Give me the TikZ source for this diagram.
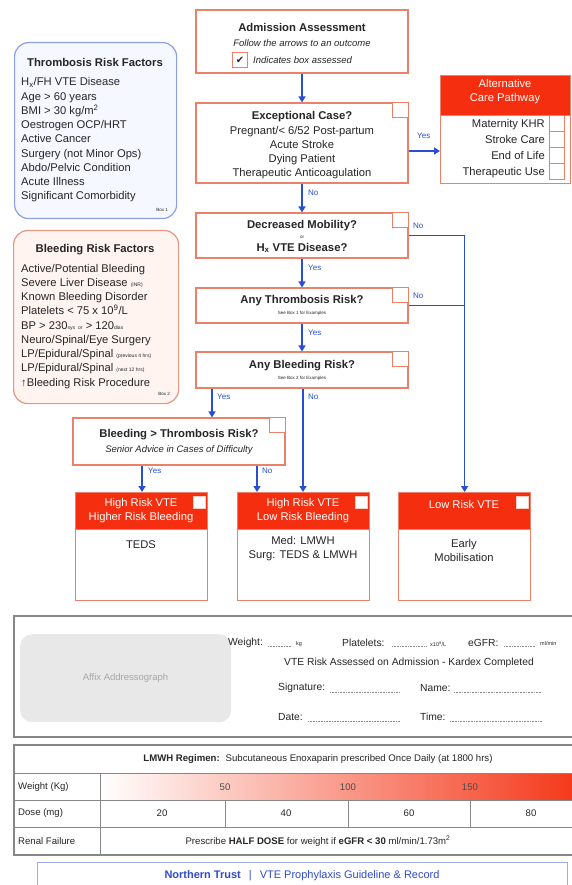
\documentclass[tikz,border=0pt]{standalone}
\usepackage{fontspec}
\setmainfont{Liberation Sans}
\newfontfamily\djv{DejaVu Sans}
\usetikzlibrary{arrows.meta,calc}
\definecolor{sal}{RGB}{236,128,104}
\definecolor{hred}{RGB}{244,46,14}
\definecolor{ablue}{RGB}{40,78,210}
\definecolor{tborder}{RGB}{140,160,230}
\definecolor{tfill}{RGB}{246,248,255}
\definecolor{bborder}{RGB}{230,150,130}
\definecolor{bfill}{RGB}{255,244,240}
\definecolor{pgray}{RGB}{135,135,135}
\definecolor{fblue}{RGB}{50,75,200}
\definecolor{fborder}{RGB}{160,170,230}
\newcommand{\tnyf}{\fontsize{5}{6}\selectfont}
\begin{document}
\begin{tikzpicture}[x=1pt,y=-1pt,
  every node/.style={inner sep=0pt, text=black!85},
  fbox/.style={draw=sal, line width=1.2pt, fill=white, inner sep=0pt},
  cbox/.style={draw=sal, line width=1pt, fill=white, minimum width=16pt, minimum height=15pt, inner sep=0pt},
  wcbox/.style={draw=sal!40, line width=0.5pt, fill=white, minimum size=12pt, inner sep=0pt},
  hdr/.style={draw=sal, line width=1.2pt, fill=hred, inner sep=0pt},
  htxt/.style={text=white, align=center, font=\fontsize{11.2}{14}\selectfont},
  ttl/.style={font=\bfseries\fontsize{11.3}{13}\selectfont},
  txt/.style={font=\fontsize{11.2}{14}\selectfont, align=center},
  itl/.style={font=\itshape\fontsize{9.5}{11}\selectfont},
  tny/.style={font=\fontsize{4.5}{5}\selectfont},
  item/.style={font=\fontsize{11.2}{13}\selectfont, anchor=base west},
  arr/.style={draw=ablue, line width=1.7pt, -{Triangle[length=6pt,width=7pt]}},
  ln/.style={draw=ablue, line width=1.7pt},
  lbl/.style={text=ablue, font=\fontsize{8}{9}\selectfont, anchor=west},
  ptxt/.style={font=\fontsize{10.3}{12}\selectfont, anchor=west},
  tbl/.style={font=\fontsize{9.6}{11}\selectfont},
  panel/.style={draw=pgray, line width=1.6pt},
  grid/.style={draw=pgray, line width=0.9pt},
  lead/.style={draw=black!45, densely dotted, line width=0.6pt}
]
\useasboundingbox (0,0) rectangle (572,885);
\fill[white] (0,0) rectangle (572,885);

% ---------- left info boxes ----------
\node[draw=tborder, fill=tfill, line width=1.2pt, rounded corners=14pt, minimum width=162pt, minimum height=176pt, anchor=north west] (tbox) at (14,42) {};
\node[ttl] (tboxT) at (95,62) {Thrombosis Risk Factors};
\foreach \t [count=\i] in {{H\textsubscript{x}/FH VTE Disease},{Age > 60 years},{BMI > 30 kg/m\textsuperscript{2}},{Oestrogen OCP/HRT},{Active Cancer},{Surgery (not Minor Ops)},{Abdo/Pelvic Condition},{Acute Illness},{Significant Comorbidity}}
  \node[item] (ti\i) at (21,{86+14.25*(\i-1)}) {\t};
\node[tny, anchor=east] (tboxN) at (168,210) {Box 1};

\node[draw=bborder, fill=bfill, line width=1.2pt, rounded corners=14pt, minimum width=165pt, minimum height=173pt, anchor=north west] (bbox) at (13,230) {};
\node[ttl] (bboxT) at (95,250) {Bleeding Risk Factors};
\foreach \t [count=\i] in {{Active/Potential Bleeding},{Severe Liver Disease {\tnyf (INR)}},{Known Bleeding Disorder},{Platelets < 75 x 10\textsuperscript{9}/L},{BP > 230{\tnyf sys} {\tnyf\itshape or} > 120{\tnyf dias}},{Neuro/Spinal/Eye Surgery},{LP/Epidural/Spinal {\tnyf (previous 4 hrs)}},{LP/Epidural/Spinal {\tnyf (next 12 hrs)}},{↑Bleeding Risk Procedure}}
  \node[item] (bi\i) at (21,{272+14.25*(\i-1)}) {\t};
\node[tny, anchor=east] (bboxN) at (170,394) {Box 2};

% ---------- admission ----------
\node[fbox, minimum width=212pt, minimum height=63pt] (adm) at (302,41.5) {};
\node[ttl] (admT) at (302,27) {Admission Assessment};
\node[itl] (admS) at (302,43) {Follow the arrows to an outcome};
\node[cbox, minimum width=15pt, minimum height=15pt] (admC) at (240,60.5) {{\djv\fontsize{10}{10}\selectfont ✔}};
\node[itl, anchor=west] (admI) at (253,60.5) {Indicates box assessed};

% ---------- exceptional ----------
\node[fbox, minimum width=212pt, minimum height=80pt] (exc) at (302,143) {};
\node[cbox, anchor=north east] (excC) at (exc.north east) {};
\node[ttl] (excT) at (302,117) {Exceptional Case?};
\node[txt] (excL) at (302,153) {Pregnant/< 6/52 Post-partum\\Acute Stroke\\Dying Patient\\Therapeutic Anticoagulation};

% ---------- alternative care ----------
\node[fbox, minimum width=130pt, minimum height=108pt, anchor=north west] (alt) at (440,75) {};
\node[hdr, minimum width=130pt, minimum height=40pt, anchor=north west] (altH) at (440,75) {};
\node[htxt] (altT) at (505,92) {Alternative\\Care Pathway};
\foreach \t/\yy [count=\i] in {Maternity KHR/124, Stroke Care/140, End of Life/156, Therapeutic Use/172}{
  \node[txt, anchor=base east] (alt\i) at (545,\yy+4) {\t};
  \node[cbox, minimum width=15pt, minimum height=16pt] (altC\i) at (556.5,\yy) {};
}

% ---------- decisions ----------
\node[fbox, minimum width=212pt, minimum height=45pt] (dec) at (302,235.5) {};
\node[cbox, anchor=north east] (decC) at (dec.north east) {};
\node[ttl] (decT) at (302,226) {Decreased Mobility?};
\node[tny] (decO) at (302,237) {or};
\node[ttl] (decH) at (302,248) {H\textsubscript{x} VTE Disease?};

\node[fbox, minimum width=212pt, minimum height=35pt] (thr) at (302,305.5) {};
\node[cbox, anchor=north east] (thrC) at (thr.north east) {};
\node[ttl] (thrT) at (302,301) {Any Thrombosis Risk?};
\node[tny] (thrS) at (302,313) {See Box 1 for Examples};

\node[fbox, minimum width=212pt, minimum height=36pt] (bld) at (302,370) {};
\node[cbox, anchor=north east] (bldC) at (bld.north east) {};
\node[ttl] (bldT) at (302,366) {Any Bleeding Risk?};
\node[tny] (bldS) at (302,378) {See Box 2 for Examples};

\node[fbox, minimum width=212pt, minimum height=47pt] (bt) at (179,441.5) {};
\node[cbox, anchor=north east] (btC) at (bt.north east) {};
\node[ttl] (btT) at (179,435) {Bleeding > Thrombosis Risk?};
\node[itl] (btS) at (179,450) {Senior Advice in Cases of Difficulty};

% ---------- outcomes ----------
\node[fbox, minimum width=132pt, minimum height=108pt, anchor=north west] (o1) at (75,492) {};
\node[hdr, minimum width=132pt, minimum height=37pt, anchor=north west] (o1h) at (75,492) {};
\node[htxt] (o1t) at (141,511) {High Risk VTE\\Higher Risk Bleeding};
\node[wcbox, anchor=north east] (o1c) at ($(o1.north east)+(-3,4)$) {};
\node[txt] (o1b) at (141,545) {TEDS};

\node[fbox, minimum width=132pt, minimum height=108pt, anchor=north west] (o2) at (237,492) {};
\node[hdr, minimum width=132pt, minimum height=37pt, anchor=north west] (o2h) at (237,492) {};
\node[htxt] (o2t) at (303,511) {High Risk VTE\\Low Risk Bleeding};
\node[wcbox, anchor=north east] (o2c) at ($(o2.north east)+(-3,4)$) {};
\node[txt] (o2b) at (303,549) {Med: LMWH\\Surg: TEDS \& LMWH};

\node[fbox, minimum width=132pt, minimum height=108pt, anchor=north west] (o3) at (398,492) {};
\node[hdr, minimum width=132pt, minimum height=37pt, anchor=north west] (o3h) at (398,492) {};
\node[htxt] (o3t) at (464,504) {Low Risk VTE};
\node[wcbox, anchor=north east] (o3c) at ($(o3.north east)+(-3,4)$) {};
\node[txt] (o3b) at (464,550) {Early\\Mobilisation};

% ---------- connectors ----------
\coordinate (yexc) at (0,151);
\coordinate (xby) at (212,0);
\coordinate (xbn) at (303,0);
\coordinate (xty) at (142,0);
\coordinate (xtn) at (257,0);
\draw[arr] (adm.south) -- (exc.north);
\draw[arr] (exc.east |- yexc) -- (alt.west |- yexc);
\draw[arr] (exc.south) -- (dec.north);
\draw[arr] (dec.south) -- (thr.north);
\draw[arr] (thr.south) -- (bld.north);
\draw[arr] (dec.east) -- (dec.east -| o3.north) -- (o3.north);
\draw[ln] (thr.east) -- (thr.east -| o3.north);
\draw[arr] (bld.south -| xby) -- (bt.north -| xby);
\draw[arr] (bld.south -| xbn) -- (o2.north -| xbn);
\draw[arr] (bt.south -| xty) -- (o1.north -| xty);
\draw[arr] (bt.south -| xtn) -- (o2.north -| xtn);

\node[lbl] (l1) at (417,136) {Yes};
\node[lbl] (l2) at (308,193) {No};
\node[lbl] (l3) at (413,226) {No};
\node[lbl] (l4) at (308,268) {Yes};
\node[lbl] (l5) at (413,296) {No};
\node[lbl] (l6) at (308,333) {Yes};
\node[lbl] (l7) at (217,397) {Yes};
\node[lbl] (l8) at (308,397) {No};
\node[lbl] (l9) at (148,471) {Yes};
\node[lbl] (l10) at (262,471) {No};

% ---------- patient panel ----------
\draw[panel] (600,616) -- (14,616) -- (14,737) -- (600,737);
\node[fill=black!9, rounded corners=12pt, minimum width=211pt, minimum height=88pt, anchor=north west] (addr) at (20,634) {};
\node[font=\fontsize{9.5}{10}\selectfont, text=black!35] (addrT) at (125.5,678) {Affix Addressograph};
\node[ptxt] (pw) at (228,643) {Weight:};
\node[anchor=west, font=\fontsize{5.5}{6}\selectfont] (pwu) at (296,644) {kg};
\node[ptxt] (pp) at (342,643) {Platelets:};
\node[anchor=west, font=\fontsize{5.5}{6}\selectfont] (ppu) at (430,644) {x10\textsuperscript{9}/L};
\node[ptxt] (pe) at (468,643) {eGFR:};
\node[anchor=west, font=\fontsize{5.5}{6}\selectfont] (peu) at (540,644) {ml/min};
\draw[lead] (268,646) -- (292,646);
\draw[lead] (392,646) -- (426,646);
\draw[lead] (504,646) -- (536,646);
\node[font=\fontsize{10.3}{12}\selectfont] (pv) at (409,663) {VTE Risk Assessed on Admission - Kardex Completed};
\node[ptxt] (psig) at (278,688) {Signature:};
\node[ptxt] (pnam) at (420,688) {Name:};
\node[ptxt] (pdat) at (278,717) {Date:};
\node[ptxt] (ptim) at (420,717) {Time:};
\draw[lead] (330,692) -- (400,692);
\draw[lead] (454,692) -- (542,692);
\draw[lead] (308,721) -- (400,721);
\draw[lead] (450,721) -- (542,721);

% ---------- LMWH table ----------
\shade[left color=white, right color=hred] (100,773) rectangle (600,800);
\draw[panel] (600,745) -- (14,745) -- (14,855) -- (600,855);
\draw[grid] (14,773) -- (600,773);
\draw[grid] (14,800) -- (600,800);
\draw[grid] (14,827) -- (600,827);
\draw[grid] (100,773) -- (100,855);
\draw[grid] (225,800) -- (225,827);
\draw[grid] (348,800) -- (348,827);
\draw[grid] (470,800) -- (470,827);
\node[tbl] (th) at (318,759) {\textbf{LMWH Regimen:}\hspace{6pt}Subcutaneous Enoxaparin prescribed Once Daily (at 1800 hrs)};
\node[tbl, anchor=west] (rw) at (18,787) {Weight (Kg)};
\node[tbl, anchor=west] (rd) at (18,813.5) {Dose (mg)};
\node[tbl, anchor=west] (rr) at (18,841) {Renal Failure};
\node[tbl, text=black!70] (w50) at (225,787) {50};
\node[tbl, text=black!70] (w100) at (348,787) {100};
\node[tbl, text=black!70] (w150) at (470,787) {150};
\node[tbl] (d20) at (162,813.5) {20};
\node[tbl] (d40) at (286,813.5) {40};
\node[tbl] (d60) at (409,813.5) {60};
\node[tbl] (d80) at (531,813.5) {80};
\node[tbl] (rt) at (318,841) {Prescribe \textbf{HALF DOSE} for weight if \textbf{eGFR < 30} ml/min/1.73m\textsuperscript{2}};

% ---------- footer ----------
\node[draw=fborder, line width=1.2pt, minimum width=530pt, minimum height=30pt, anchor=north west] (foot) at (37,862) {};
\node[text=fblue, font=\fontsize{11}{13}\selectfont] (footT) at (302,876) {\textbf{Northern Trust}\hspace{8pt}|\hspace{8pt}VTE Prophylaxis Guideline \& Record};
\end{tikzpicture}
\end{document}
